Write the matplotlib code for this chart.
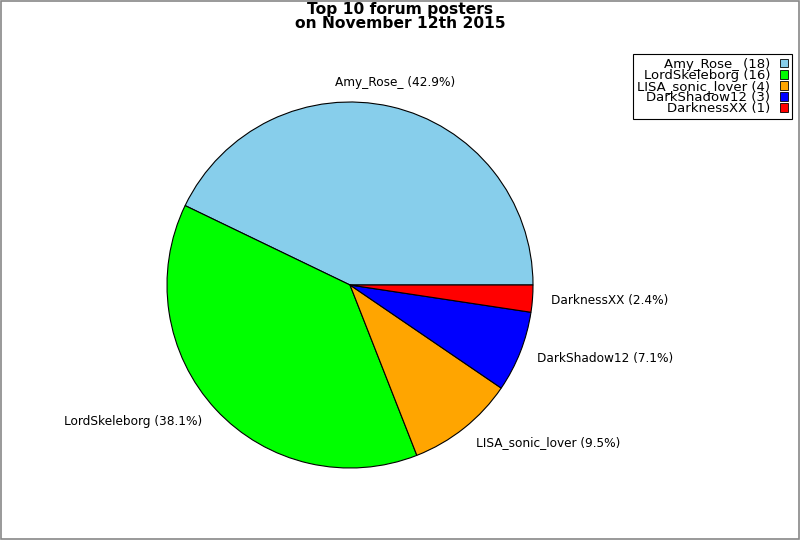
import matplotlib
matplotlib.use("Agg")
import matplotlib.pyplot as plt
from matplotlib.patches import Rectangle

names = ["Amy_Rose_", "LordSkeleborg", "LISA_sonic_lover", "DarkShadow12", "DarknessXX"]
posts = [18, 16, 4, 3, 1]
colors = ["#87CEEB", "#00FF00", "#FFA500", "#0000FF", "#FF0000"]

total = sum(posts)
labels = [f"{n} ({p / total * 100:.1f}%)" for n, p in zip(names, posts)]

fig = plt.figure(figsize=(8, 5.4), dpi=100)

# pie centre ~ (350, 285) px, radius ~183 px
cx, cy, r = 350, 285, 183
ax = fig.add_axes([(cx - r) / 800, (540 - cy - r) / 540, 2 * r / 800, 2 * r / 540])
wedges, texts = ax.pie(posts, labels=labels, colors=colors, startangle=0,
                       labeldistance=1.1,
                       wedgeprops=dict(edgecolor="black", linewidth=0.8),
                       textprops=dict(fontsize=8.7))
texts[0].set_ha("center")
texts[0].set_va("bottom")
ax.set_xlim(-1, 1)
ax.set_ylim(-1, 1)
ax.set_aspect("equal")

fig.suptitle("Top 10 forum posters\non November 12th 2015", fontsize=11.2,
             fontweight="bold", y=0.997, linespacing=0.92)

handles = [Rectangle((0, 0), 1, 1, facecolor=c, edgecolor="black", linewidth=0.6)
           for c in colors]
leg_labels = [f"{n} ({p})" for n, p in zip(names, posts)]
leg = fig.legend(handles, leg_labels, loc="upper right",
                 bbox_to_anchor=(792 / 800, 1 - 54 / 540), borderaxespad=0,
                 markerfirst=False, fontsize=9.5, labelspacing=-0.15,
                 handlelength=0.6, handleheight=0.6, handletextpad=0.75,
                 borderpad=0.3, fancybox=False, framealpha=1)
leg.get_frame().set_edgecolor("black")
leg.get_frame().set_linewidth(0.8)

# grey border round the image
fig.add_artist(Rectangle((0.0008, 0.0012), 0.9984, 0.9976, transform=fig.transFigure,
                         fill=False, edgecolor="#888888", linewidth=1.2))

plt.savefig("out.png", dpi=100)
